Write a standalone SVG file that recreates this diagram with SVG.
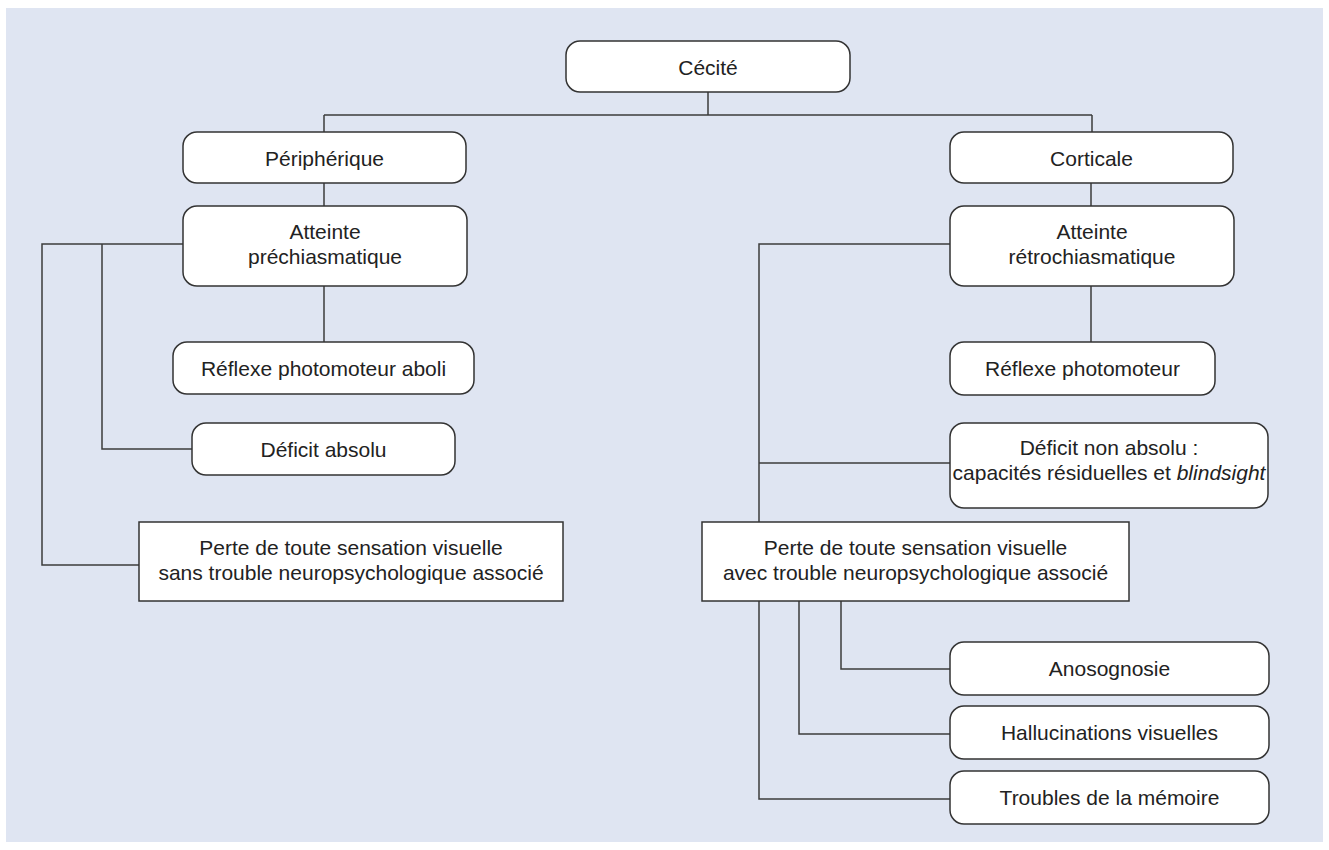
<svg xmlns="http://www.w3.org/2000/svg" width="1329" height="850" viewBox="0 0 1329 850">
<style>
.bg{fill:#dfe5f2}
.n{fill:#ffffff;stroke:#333333;stroke-width:1.5}
.c{fill:none;stroke:#3c3c3c;stroke-width:1.5}
text{font-family:"Liberation Sans",Arial,Helvetica,sans-serif;font-size:21px;fill:#222222;text-anchor:middle}
.i{font-style:italic}
</style>
<rect x="0" y="0" width="1329" height="850" fill="#ffffff"/>
<rect class="bg" x="6" y="8" width="1317" height="834"/>
<g id="connectors">
<path class="c" d="M708 92V115M324 115H1092M324 115V132M1092 115V132"/>
<path class="c" d="M324 183V206M324 286V342M1091 183V206M1091 286V342"/>
<path class="c" d="M183 244H42V565H139M102 244V449H192"/>
<path class="c" d="M950 244H759V522M759 463H950"/>
<path class="c" d="M759 601V799H950M799 601V734H950M841 601V669H950"/>
</g>
<g id="cecite"><rect class="n" x="566" y="41" width="284" height="51" rx="14"/><text x="708" y="75">Cécité</text></g>
<g id="peripherique"><rect class="n" x="183" y="132" width="283" height="51" rx="14"/><text x="324.5" y="166">Périphérique</text></g>
<g id="corticale"><rect class="n" x="950" y="132" width="283" height="51" rx="14"/><text x="1091.5" y="166">Corticale</text></g>
<g id="atteinte-pre"><rect class="n" x="183" y="206" width="284" height="80" rx="14"/><text x="325" y="239">Atteinte</text><text x="325" y="264">préchiasmatique</text></g>
<g id="atteinte-retro"><rect class="n" x="950" y="206" width="284" height="80" rx="14"/><text x="1092" y="239">Atteinte</text><text x="1092" y="264">rétrochiasmatique</text></g>
<g id="reflexe-aboli"><rect class="n" x="173" y="342" width="301" height="52" rx="14"/><text x="323.5" y="376">Réflexe photomoteur aboli</text></g>
<g id="reflexe"><rect class="n" x="950" y="342" width="265" height="53" rx="14"/><text x="1082.5" y="376">Réflexe photomoteur</text></g>
<g id="deficit-absolu"><rect class="n" x="192" y="423" width="263" height="52" rx="14"/><text x="323.5" y="457">Déficit absolu</text></g>
<g id="deficit-non-absolu"><rect class="n" x="950" y="423" width="318" height="85" rx="14"/><text x="1109" y="455">Déficit non absolu :</text><text x="1109" y="480">capacités résiduelles et <tspan class="i">blindsight</tspan></text></g>
<g id="perte-sans"><rect class="n" x="139" y="522" width="424" height="79"/><text x="351" y="555">Perte de toute sensation visuelle</text><text x="351" y="580">sans trouble neuropsychologique associé</text></g>
<g id="perte-avec"><rect class="n" x="702" y="522" width="427" height="79"/><text x="915.5" y="555">Perte de toute sensation visuelle</text><text x="915.5" y="580">avec trouble neuropsychologique associé</text></g>
<g id="anosognosie"><rect class="n" x="950" y="642" width="319" height="53" rx="14"/><text x="1109.5" y="676">Anosognosie</text></g>
<g id="hallucinations"><rect class="n" x="950" y="706" width="319" height="53" rx="14"/><text x="1109.5" y="740">Hallucinations visuelles</text></g>
<g id="troubles"><rect class="n" x="950" y="771" width="319" height="53" rx="14"/><text x="1109.5" y="805">Troubles de la mémoire</text></g>
</svg>
